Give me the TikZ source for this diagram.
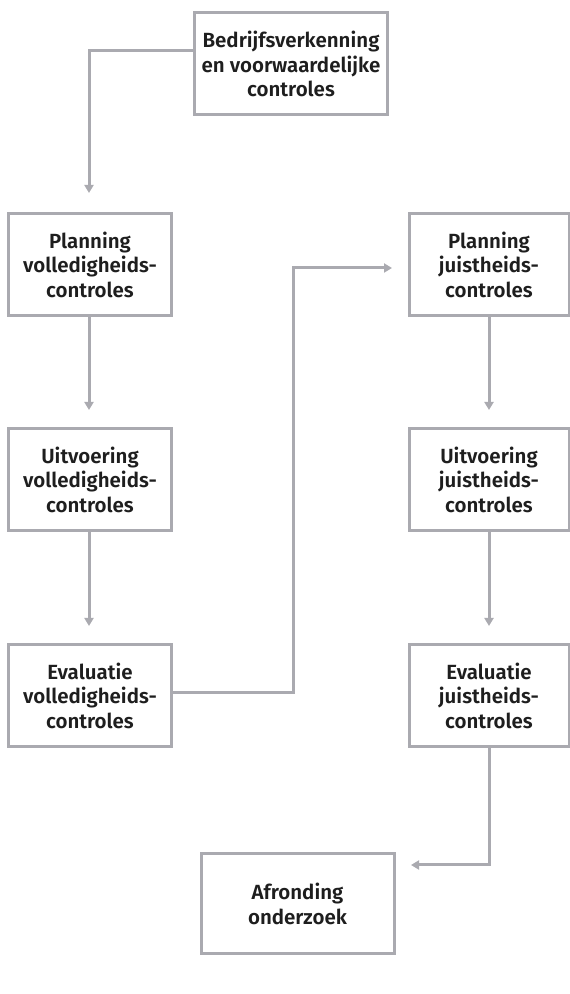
\documentclass[tikz,border=0pt]{standalone}
\usepackage{fontspec}
\setmainfont{Fira Sans}[BoldFont={Fira Sans SemiBold}]
\usetikzlibrary{arrows.meta}
\definecolor{linegray}{RGB}{170,170,176}
\definecolor{textdark}{RGB}{30,30,30}
\tikzset{
  box/.style={draw=linegray, line width=3pt, fill=white, minimum width=#1, minimum height=102pt,
    align=center, inner sep=0pt, text=textdark, font=\fontsize{20.5}{24.5}\selectfont\bfseries},
  box/.default=163pt,
  conn/.style={draw=linegray, line width=3pt, -{Triangle[width=9pt,length=8pt]}},
}
\begin{document}
\begin{tikzpicture}[x=1pt,y=1pt]
\useasboundingbox (0,0) rectangle (570,994);
\node[box=193pt] (top) at (291,930) {Bedrijfsverkenning\\en voorwaardelijke\\controles};
\node[box] (l1) at (90,729.5) {Planning\\volledigheids-\\controles};
\node[box] (l2) at (90,514.5) {Uitvoering\\volledigheids-\\controles};
\node[box] (l3) at (90,298.5) {Evaluatie\\volledigheids-\\controles};
\node[box=160pt] (r1) at (489,729.5) {Planning\\juistheids-\\controles};
\node[box=160pt] (r2) at (489,514.5) {Uitvoering\\juistheids-\\controles};
\node[box=160pt] (r3) at (489,298.5) {Evaluatie\\juistheids-\\controles};
\node[box=193pt, minimum height=100pt] (af) at (297.5,90) {Afronding\\onderzoek};
\coordinate (t0) at (top.west |- 0,943);
\coordinate (e1) at (89,801);
\coordinate (e2) at (89,584);
\coordinate (e3) at (489,584);
\coordinate (e4) at (89,368);
\coordinate (e5) at (489,368);
\coordinate (e6) at (392,726);
\coordinate (e7) at (411,129);
\draw[conn] (t0) -| (e1);
\draw[conn] (l1.south -| e2) -- (e2);
\draw[conn] (l2.south -| e4) -- (e4);
\draw[conn] (r1.south) -- (e3);
\draw[conn] (r2.south) -- (e5);
\draw[conn] (l3.east |- 0,301) -- (293,301) |- (e6);
\draw[conn] (r3.south) |- (e7);
\end{tikzpicture}
\end{document}
